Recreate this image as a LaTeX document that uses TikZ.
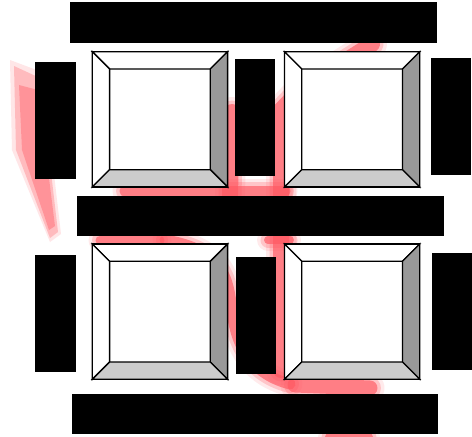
\documentclass[tikz,border=0pt]{standalone}
\definecolor{rib}{RGB}{255,88,98}
\definecolor{bevR}{RGB}{153,153,153}
\definecolor{bevB}{RGB}{204,204,204}
\tikzset{
  bar/.style={fill=black},
  edge/.style={draw=black,line width=1.3pt,line join=miter},
}
\newcommand\soft[2]{%
  \draw[rib,opacity=0.12,line width={#1pt+14pt},line cap=round,line join=round] #2;
  \draw[rib,opacity=0.25,line width={#1pt+7pt},line cap=round,line join=round] #2;
  \draw[rib,opacity=0.65,line width={#1pt},line cap=round,line join=round] #2;
}
\newcommand\bevsq[3]{%
  \begin{scope}[shift={(#2,#3)}]
    \coordinate (#1) at (67.7,67.7);
    \fill[white] (0,0) rectangle (135.3,135.3);
    \filldraw[edge,fill=white] (0,0) -- (135.3,0) -- (118,17.3) -- (17.3,17.3) -- cycle;
    \filldraw[edge,fill=white] (0,0) -- (17.3,17.3) -- (17.3,118) -- (0,135.3) -- cycle;
    \filldraw[edge,fill=bevR] (135.3,0) -- (135.3,135.3) -- (118,118) -- (118,17.3) -- cycle;
    \filldraw[edge,fill=bevB] (0,135.3) -- (135.3,135.3) -- (118,118) -- (17.3,118) -- cycle;
    \draw[edge] (0,0) rectangle (135.3,135.3);
  \end{scope}}
\begin{document}
\begin{tikzpicture}[x=1pt,y=-1pt]
\useasboundingbox (0,0) rectangle (472,437);
\fill[white] (0,0) rectangle (472,437);
% blurred red ribbon behind
\fill[rib,opacity=0.15] (10,60) -- (42,72) -- (61,234) -- (50,242) -- (12,150) -- cycle;
\fill[rib,opacity=0.3] (14,66) -- (40,78) -- (58,232) -- (50,238) -- (16,150) -- cycle;
\fill[rib,opacity=0.4] (19,85) -- (38,90) -- (55,226) -- (49,230) -- (22,150) -- cycle;
\soft{16}{(372,44) -- (300,90) -- (281,110) -- (281,370)}
\soft{16}{(232,112) -- (230,195)}
\soft{11}{(125,191) -- (285,191)}
\soft{9}{(100,240) -- (160,240)}
\soft{8}{(268,240) -- (290,240)}
\soft{11}{(165,240) .. controls (225,250) and (228,280) .. (232,310) .. controls (236,350) and (255,375) .. (290,384)}
\soft{15}{(295,385) -- (370,388)}
\soft{10}{(330,437) -- (368,437)}
% beveled squares
\bevsq{sqA}{92.3}{51.7}
\bevsq{sqB}{284.5}{51.7}
\bevsq{sqC}{92.3}{244}
\bevsq{sqD}{284.5}{244}
% black bars
\fill[bar] (70.3,2.3) rectangle (437.3,42.7);
\fill[bar] (77,195.7) rectangle (443.7,235.7);
\fill[bar] (71.7,394) rectangle (438.3,434);
\fill[bar] (35.3,62) rectangle (75.7,179);
\fill[bar] (35.3,255.3) rectangle (75.7,372);
\fill[bar] (235,59) rectangle (275,175.7);
\fill[bar] (236,257.3) rectangle (276,374);
\fill[bar] (431,58) rectangle (471.3,174.7);
\fill[bar] (432.3,253.3) rectangle (472,370);
\end{tikzpicture}
\end{document}
